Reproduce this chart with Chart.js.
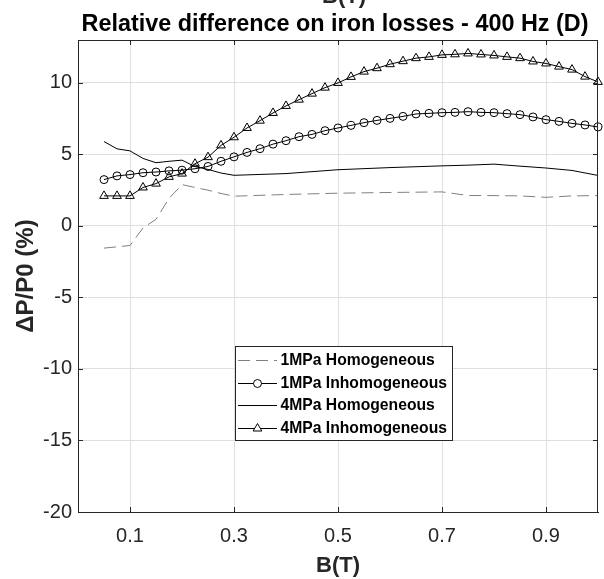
<!DOCTYPE html>
<html>
<head>
<meta charset="utf-8">
<title>Relative difference on iron losses - 400 Hz (D)</title>
<script src="https://cdn.jsdelivr.net/npm/chart.js@4.4.1/dist/chart.umd.min.js"></script>
<style>
  html, body { margin: 0; padding: 0; background: #fff; }
  #wrap { width: 604px; height: 579px; position: relative; }
</style>
</head>
<body>
<div id="wrap"><canvas id="chart" width="604" height="579"></canvas></div>
<script>
// flux density steps of the inhomogeneous runs (T)
const B_INH = [0.05, 0.075, 0.1, 0.125, 0.15, 0.175, 0.2, 0.225, 0.25, 0.275,
  0.3, 0.325, 0.35, 0.375, 0.4, 0.425, 0.45, 0.475, 0.5, 0.525,
  0.55, 0.575, 0.6, 0.625, 0.65, 0.675, 0.7, 0.725, 0.75, 0.775,
  0.8, 0.825, 0.85, 0.875, 0.9, 0.925, 0.95, 0.975, 1.0];
const P1_INH = [3.24, 3.5, 3.59, 3.72, 3.77, 3.85, 3.9, 4.0, 4.16, 4.52,
  4.83, 5.14, 5.4, 5.72, 5.96, 6.24, 6.4, 6.66, 6.85, 7.03,
  7.22, 7.38, 7.52, 7.66, 7.83, 7.87, 7.92, 7.94, 7.99, 7.94,
  7.92, 7.85, 7.78, 7.62, 7.43, 7.31, 7.17, 7.06, 6.92];
const P4_INH = [2.1, 2.1, 2.1, 2.69, 2.96, 3.43, 3.66, 4.35, 4.81, 5.63,
  6.2, 6.85, 7.36, 7.9, 8.39, 8.83, 9.25, 9.67, 10.0, 10.42,
  10.79, 11.03, 11.31, 11.52, 11.73, 11.82, 11.96, 12.0, 12.06, 11.99,
  11.92, 11.82, 11.73, 11.5, 11.36, 11.14, 10.93, 10.44, 10.07];

// homogeneous runs
const B_HOM = [0.05, 0.075, 0.1, 0.125, 0.15, 0.175, 0.2, 0.225, 0.25, 0.275,
  0.3, 0.4, 0.5, 0.6, 0.7, 0.75, 0.8, 0.85, 0.9, 0.95, 1.0];
const P1_HOM = [-1.55, -1.46, -1.37, -0.14, 0.46, 1.92, 2.89, 2.69, 2.5, 2.27,
  2.08, 2.2, 2.29, 2.34, 2.38, 2.13, 2.12, 2.1, 2.0, 2.1, 2.12];
const P4_HOM = [5.9, 5.39, 5.25, 4.72, 4.42, 4.52, 4.6, 4.15, 3.95, 3.7,
  3.54, 3.66, 3.93, 4.08, 4.2, 4.25, 4.32, 4.18, 4.05, 3.88, 3.53];

const SERIES_NAMES = ['1MPa Homogeneous', '1MPa Inhomogeneous', '4MPa Homogeneous', '4MPa Inhomogeneous'];
const X_TICKS = [0.1, 0.3, 0.5, 0.7, 0.9];
const Y_TICKS = [-20, -15, -10, -5, 0, 5, 10];

const FONT = "'Liberation Sans', Arial, Helvetica, sans-serif";
const AXIS_COLOR = '#262626';

function pairs(xs, ys) {
  return xs.map((x, i) => ({ x: x, y: ys[i] }));
}

// title + the clipped label of the plot above
const titles = {
  id: 'titles',
  afterDraw(chart) {
    const ctx = chart.ctx;
    ctx.save();
    ctx.textAlign = 'center';
    ctx.textBaseline = 'alphabetic';
    ctx.fillStyle = '#000';
    ctx.font = 'bold 23.4px ' + FONT;
    ctx.fillText('Relative difference on iron losses - 400 Hz (D)', 335, 30.5);
    ctx.fillStyle = AXIS_COLOR;
    ctx.font = 'bold 22px ' + FONT;
    ctx.fillText('B(T)', 344, 3);
    ctx.restore();
  }
};

// box on, ticks pointing inwards on all sides
const frame = {
  id: 'frame',
  afterDraw(chart) {
    const ctx = chart.ctx;
    const a = chart.chartArea;
    const xs = chart.scales.x, ys = chart.scales.y;
    ctx.save();
    ctx.strokeStyle = AXIS_COLOR;
    ctx.lineWidth = 1;
    ctx.beginPath();
    ctx.moveTo(a.left, a.top + 0.5);
    ctx.lineTo(a.right, a.top + 0.5);
    ctx.moveTo(a.right - 0.5, a.top);
    ctx.lineTo(a.right - 0.5, a.bottom);
    X_TICKS.forEach(v => {
      const px = Math.round(xs.getPixelForValue(v)) + 0.5;
      ctx.moveTo(px, a.bottom); ctx.lineTo(px, a.bottom - 5);
      ctx.moveTo(px, a.top); ctx.lineTo(px, a.top + 5);
    });
    Y_TICKS.forEach(v => {
      const py = Math.round(ys.getPixelForValue(v)) + 0.5;
      ctx.moveTo(a.left, py); ctx.lineTo(a.left + 5, py);
      ctx.moveTo(a.right, py); ctx.lineTo(a.right - 5, py);
    });
    ctx.stroke();
    ctx.restore();
  }
};

// legend box inside the axes
const legendBox = {
  id: 'legendBox',
  afterDraw(chart) {
    const ctx = chart.ctx;
    ctx.save();
    ctx.fillStyle = '#fff';
    ctx.fillRect(235, 346, 217, 94);
    ctx.strokeStyle = AXIS_COLOR;
    ctx.lineWidth = 1;
    ctx.strokeRect(235.5, 346.5, 217, 94);
    chart.data.datasets.forEach((ds, i) => {
      const y = Math.round(360 + i * 22.7) + 0.5;
      ctx.strokeStyle = ds.borderColor;
      ctx.lineWidth = 1;
      ctx.setLineDash(ds.borderDash || []);
      ctx.beginPath();
      ctx.moveTo(238, y);
      ctx.lineTo(277, y);
      ctx.stroke();
      ctx.setLineDash([]);
      if (ds.pointRadius > 0) {
        ctx.fillStyle = '#fff';
        Chart.helpers.drawPoint(ctx, {
          pointStyle: ds.pointStyle, radius: ds.pointRadius, rotation: 0, borderWidth: 1
        }, 257.5, y);
      }
      ctx.fillStyle = '#000';
      ctx.font = 'bold 15.7px ' + FONT;
      ctx.textAlign = 'left';
      ctx.textBaseline = 'middle';
      ctx.fillText(ds.label, 280.5, y);
    });
    ctx.restore();
  }
};

const config = {
  type: 'line',
  data: {
    datasets: [
      {
        label: SERIES_NAMES[0],
        data: pairs(B_HOM, P1_HOM),
        borderColor: '#808080',
        borderWidth: 1,
        borderDash: [12, 6],
        pointRadius: 0,
        clip: false
      },
      {
        label: SERIES_NAMES[1],
        data: pairs(B_INH, P1_INH),
        borderColor: '#000',
        borderWidth: 1,
        pointStyle: 'circle',
        pointRadius: 4,
        pointBorderWidth: 1,
        pointBorderColor: '#000',
        pointBackgroundColor: 'rgba(0,0,0,0)',
        clip: false
      },
      {
        label: SERIES_NAMES[2],
        data: pairs(B_HOM, P4_HOM),
        borderColor: '#000',
        borderWidth: 1,
        pointRadius: 0,
        clip: false
      },
      {
        label: SERIES_NAMES[3],
        data: pairs(B_INH, P4_INH),
        borderColor: '#000',
        borderWidth: 1,
        pointStyle: 'triangle',
        pointRadius: 5,
        pointBorderWidth: 1,
        pointBorderColor: '#000',
        pointBackgroundColor: 'rgba(0,0,0,0)',
        clip: false
      }
    ]
  },
  options: {
    responsive: false,
    animation: false,
    layout: { padding: { top: 40, right: 1, left: 0, bottom: 0 } },
    plugins: {
      legend: { display: false },
      title: { display: false },
      tooltip: { enabled: false }
    },
    scales: {
      x: {
        type: 'linear',
        min: 0,
        max: 1,
        afterBuildTicks: s => { s.ticks = X_TICKS.map(v => ({ value: v })); },
        afterFit: s => { s.height = 67; },
        grid: { color: '#dfdfdf', drawTicks: false },
        border: { color: AXIS_COLOR, width: 1 },
        ticks: {
          padding: 12,
          color: AXIS_COLOR,
          font: { family: FONT, size: 20 },
          callback: v => String(v)
        },
        title: {
          display: true,
          text: 'B(T)',
          color: AXIS_COLOR,
          font: { family: FONT, size: 22, weight: 'bold' },
          padding: { top: 0, bottom: 0 }
        }
      },
      y: {
        type: 'linear',
        min: -20,
        max: 13,
        afterBuildTicks: s => { s.ticks = Y_TICKS.map(v => ({ value: v })); },
        afterFit: s => { s.width = 78; },
        grid: { color: '#dfdfdf', drawTicks: false },
        border: { color: AXIS_COLOR, width: 1 },
        ticks: {
          padding: 6,
          color: AXIS_COLOR,
          font: { family: FONT, size: 20 }
        },
        title: {
          display: true,
          text: 'ΔP/P0 (%)',
          color: AXIS_COLOR,
          font: { family: FONT, size: 24, weight: 'bold' },
          padding: { top: 12, bottom: 0 }
        }
      }
    }
  },
  plugins: [titles, frame, legendBox]
};

const ctx = document.getElementById('chart');
window.ironChart = new Chart(ctx, config);
</script>
</body>
</html>
